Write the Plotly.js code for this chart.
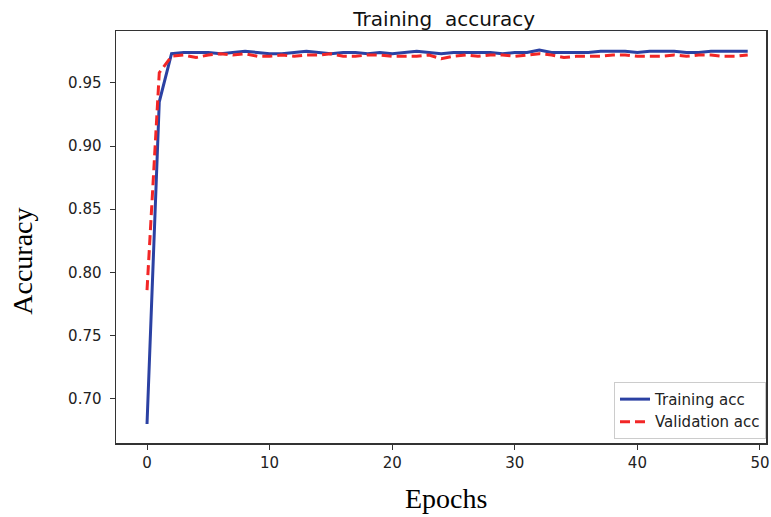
<!DOCTYPE html>
<html><head><meta charset="utf-8">
<script src="https://cdn.plot.ly/plotly-3.0.1.min.js"></script>
<style>html,body{margin:0;padding:0;background:#fff;}</style>
</head><body>
<div id="chart" style="width:771px;height:517px;"></div>
<script>
const epochs = Array.from({length:50}, (_, i) => i);
const trainingAcc = [0.680,0.935,0.973,0.974,0.974,0.974,0.973,0.974,0.975,0.974,
  0.973,0.973,0.974,0.975,0.974,0.973,0.974,0.974,0.973,0.974,
  0.973,0.974,0.975,0.974,0.973,0.974,0.974,0.974,0.974,0.973,
  0.974,0.974,0.976,0.974,0.974,0.974,0.974,0.975,0.975,0.975,
  0.974,0.975,0.975,0.975,0.974,0.974,0.975,0.975,0.975,0.975];
const validationAcc = [0.786,0.958,0.971,0.972,0.970,0.972,0.973,0.972,0.973,0.971,
  0.971,0.972,0.971,0.972,0.972,0.973,0.971,0.971,0.972,0.972,
  0.971,0.971,0.971,0.972,0.969,0.971,0.972,0.971,0.972,0.972,
  0.971,0.972,0.973,0.972,0.970,0.971,0.971,0.971,0.972,0.972,
  0.971,0.971,0.971,0.972,0.971,0.972,0.972,0.971,0.971,0.972];
const xTicks = [0,10,20,30,40,50];
const yTicks = [0.70,0.75,0.80,0.85,0.90,0.95];

const traces = [
  {x: epochs, y: trainingAcc, name: 'Training acc', mode: 'lines',
   line: {color: '#2b41a3', width: 3}},
  {x: epochs, y: validationAcc, name: 'Validation acc', mode: 'lines',
   line: {color: '#f22626', width: 3, dash: '10px,5px'}}
];
const tickFont = {family: 'DejaVu Sans', size: 15, color: '#222'};
const layout = {
  width: 771, height: 517,
  margin: {l: 116, r: 5, t: 31, b: 74},
  paper_bgcolor: '#fff', plot_bgcolor: '#fff',
  showlegend: true,
  title: {text: 'Training  accuracy', font: {family: 'DejaVu Sans', size: 20, color: '#111'},
          x: 0.505, xref: 'paper', y: 1, yref: 'paper', yanchor: 'bottom', pad: {b: 5}},
  xaxis: {range: [-2.53, 50.49], tickvals: xTicks, ticks: 'outside', ticklen: 5, tickcolor: '#333',
          showgrid: false, zeroline: false, showline: true, linecolor: '#333', linewidth: 1.5,
          mirror: true, tickfont: tickFont, ticklabelstandoff: 0},
  yaxis: {range: [0.665, 0.991], tickvals: yTicks, tickformat: '.2f', ticks: 'outside', ticklen: 5,
          tickcolor: '#333', showgrid: false, zeroline: false, showline: true, linecolor: '#333',
          linewidth: 1.5, mirror: true, tickfont: tickFont, ticklabelstandoff: 5},
  legend: {x: 1.0, y: 0.01, xanchor: 'right', yanchor: 'bottom', bgcolor: 'rgba(255,255,255,0.9)',
           bordercolor: '#ccc', borderwidth: 1, font: {family: 'DejaVu Sans', size: 15, color: '#222'},
           tracegroupgap: 0},
  annotations: [
    {text: 'Epochs', xref: 'paper', yref: 'paper', x: 0.5, xshift: 5, y: 0, yshift: -55, showarrow: false,
     yanchor: 'middle', font: {family: 'Liberation Serif', size: 28, color: '#000'}},
    {text: 'Accuracy', xref: 'paper', yref: 'paper', x: 0, xshift: -93, y: 0.44, showarrow: false,
     textangle: -90, xanchor: 'center', font: {family: 'Liberation Serif', size: 28, color: '#000'}}
  ]
};
Plotly.newPlot('chart', traces, layout, {displayModeBar: false, staticPlot: true});
</script>
</body></html>
